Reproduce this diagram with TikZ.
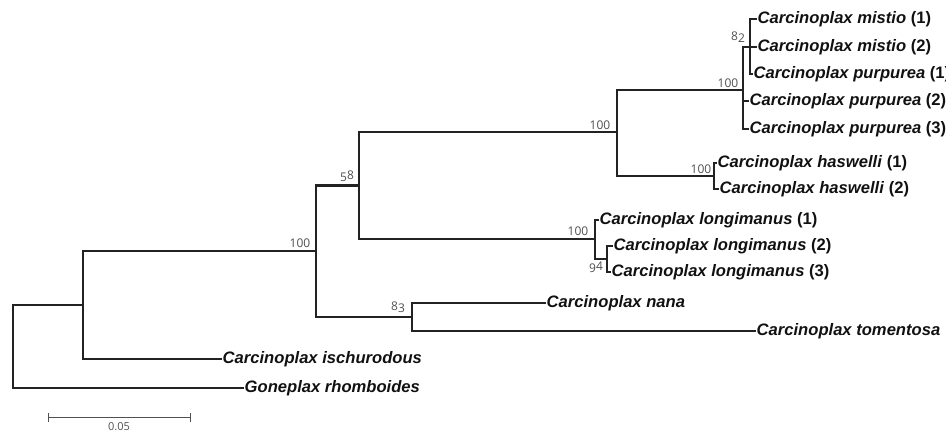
\documentclass[tikz,border=0pt]{standalone}
\usepackage{fontspec}
\setmainfont{Liberation Sans}
\newfontfamily\supfont{Open Sans}
\newcommand{\lowdig}[1]{\raisebox{-2pt}{#1}}
\newcommand{\highdig}[1]{\raisebox{2pt}{#1}}
\definecolor{branchcol}{HTML}{222222}
\definecolor{supcol}{HTML}{505050}
\definecolor{tipcol}{HTML}{111111}
\tikzset{
  br/.style={draw=branchcol, line width=2.1pt, line cap=rect},
  tip/.style={anchor=west, inner xsep=1.5pt, inner ysep=0pt, text=tipcol,
    font=\fontsize{16.6}{19}\selectfont\bfseries, text height=12pt, text depth=3.8pt},
  suplab/.style={inner sep=0pt, text=supcol, font=\supfont\fontsize{12}{13}\selectfont},
}
\newcommand{\carcsp}[2]{\textit{Carcinoplax #1}#2}
\begin{document}
\begin{tikzpicture}[x=1pt,y=-1pt]
\useasboundingbox (0,0) rectangle (946,432);
% internal nodes
\coordinate (r) at (13,346.5);
\coordinate (a) at (83,305);
\coordinate (b) at (316,251);
\coordinate (c) at (359,185.5);
\coordinate (d) at (412,317);
\coordinate (e) at (617,132);
\coordinate (f) at (595,239);
\coordinate (g) at (743,90);
\coordinate (h) at (714,176);
\coordinate (i) at (750,47);
\coordinate (j) at (607,259);
% tips
\node[tip] (t1) at (756,19) {\carcsp{mistio}{ (1)}};
\node[tip] (t2) at (756,47) {\carcsp{mistio}{ (2)}};
\node[tip] (t3) at (752,74) {\carcsp{purpurea}{ (1)}};
\node[tip] (t4) at (748,101) {\carcsp{purpurea}{ (2)}};
\node[tip] (t5) at (748,129) {\carcsp{purpurea}{ (3)}};
\node[tip] (t6) at (716,163) {\carcsp{haswelli}{ (1)}};
\node[tip] (t7) at (718,189) {\carcsp{haswelli}{ (2)}};
\node[tip] (t8) at (598,220) {\carcsp{longimanus}{ (1)}};
\node[tip] (t9) at (612,246) {\carcsp{longimanus}{ (2)}};
\node[tip] (t10) at (610,272) {\carcsp{longimanus}{ (3)}};
\node[tip] (t11) at (545,303) {\carcsp{nana}{}};
\node[tip] (t12) at (755,331) {\carcsp{tomentosa}{}};
\node[tip] (t13) at (221,359) {\carcsp{ischurodous}{}};
\node[tip] (t14) at (243,388) {\textit{Goneplax rhomboides}};
% branches
\draw[br] (r) |- (a);
\draw[br] (r) |- (t14.west);
\draw[br] (a) |- (b);
\draw[br] (a) |- (t13.west);
\draw[br] (b) |- (c);
\draw[br] (b) |- (d);
\draw[br] (d) |- (t11.west);
\draw[br] (d) |- (t12.west);
\draw[br] (c) |- (e);
\draw[br] (c) |- (f);
\draw[br] (f) |- (t8.west);
\draw[br] (f) |- (j);
\draw[br] (j) |- (t9.west);
\draw[br] (j) |- (t10.west);
\draw[br] (e) |- (g);
\draw[br] (e) |- (h);
\draw[br] (h) |- (t6.west);
\draw[br] (h) |- (t7.west);
\draw[br] (g) |- (i);
\draw[br] (g) |- (t4.west);
\draw[br] (g) |- (t5.west);
\draw[br] (i) |- (t1.west);
\draw[br] (i) |- (t2.west);
\draw[br] (i) |- (t3.west);
% support values
\node[suplab] (sb) at (300,243) {100};
\node[suplab] (sc) at (347,176) {\lowdig{5}8};
\node[suplab] (se) at (600,125) {100};
\node[suplab] (sg) at (728,83) {100};
\node[suplab] (si) at (738,37) {8\lowdig{2}};
\node[suplab] (sh) at (701,169) {100};
\node[suplab] (sf) at (578,231) {100};
\node[suplab] (sj) at (596,267) {9\highdig{4}};
\node[suplab] (sd) at (398,307) {8\lowdig{3}};
% scale bar
\coordinate (s0) at (48,417);
\coordinate (s1) at (190,417);
\draw[draw=supcol, line width=1pt] (s0) -- (s1);
\draw[draw=supcol, line width=1pt] ([yshift=-4.5pt]s0) -- ([yshift=4.5pt]s0);
\draw[draw=supcol, line width=1pt] ([yshift=-4.5pt]s1) -- ([yshift=4.5pt]s1);
\node[suplab, anchor=north, font=\supfont\fontsize{11}{12}\selectfont] (sl) at (119,422.5) {0.05};
\end{tikzpicture}
\end{document}
